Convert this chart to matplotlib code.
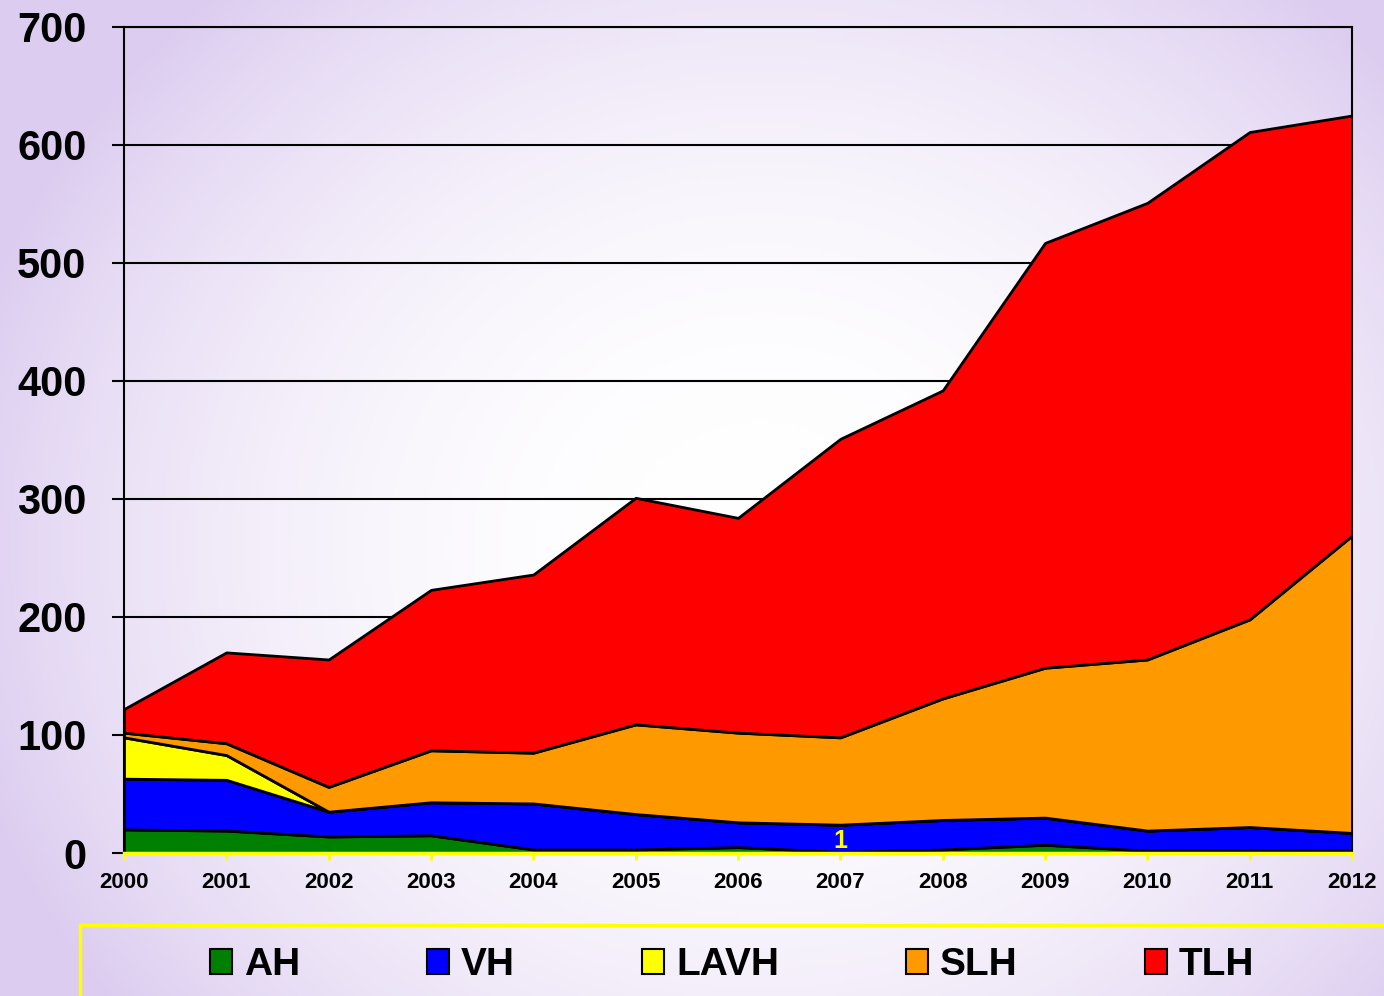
import numpy as np
import matplotlib
matplotlib.use("Agg")
import matplotlib.pyplot as plt
from matplotlib.patches import Rectangle, Patch

years = [2000, 2001, 2002, 2003, 2004, 2005, 2006, 2007, 2008, 2009, 2010, 2011, 2012]
ah = [20, 19, 14, 15, 3, 3, 5, 1, 3, 7, 2, 2, 2]
vh = [43, 43, 21, 28, 39, 30, 21, 23, 25, 23, 17, 20, 15]
lavh = [35, 21, 0, 0, 0, 0, 0, 0, 0, 0, 0, 0, 0]
slh = [4, 10, 21, 44, 43, 76, 76, 74, 103, 127, 145, 176, 252]
tlh = [20, 77, 108, 136, 151, 192, 182, 253, 261, 360, 387, 413, 356]

labels = ["AH", "VH", "LAVH", "SLH", "TLH"]
colors = ["#008000", "#0000FF", "#FFFF00", "#FF9900", "#FF0000"]

plt.rcParams["font.family"] = ["Liberation Sans", "DejaVu Sans"]
plt.rcParams["font.weight"] = "bold"

fig = plt.figure(figsize=(13.84, 9.96), dpi=100)

# lavender-to-white background
bg = fig.add_axes([0, 0, 1, 1], zorder=-10)
gx, gy = np.meshgrid(np.linspace(0, 1, 400), np.linspace(0, 1, 300))
r = np.sqrt(((gx - 0.55) / 0.6) ** 2 + ((gy - 0.45) / 0.75) ** 2)
t = np.clip(r, 0, 1) ** 2.2
lav = np.array([220, 204, 240]) / 255.0
img = (1 - t)[..., None] * np.ones(3) + t[..., None] * lav
bg.imshow(img, extent=[0, 1, 0, 1], aspect="auto", origin="lower")
bg.axis("off")

ax = fig.add_axes([124 / 1384, (996 - 853) / 996, (1352 - 124) / 1384, (853 - 27) / 996])
ax.set_facecolor("none")

ax.stackplot(years, ah, vh, lavh, slh, tlh, colors=colors,
             edgecolor="black", linewidth=2, zorder=3)

for v in range(100, 701, 100):
    ax.axhline(v, color="black", linewidth=1.5, zorder=1)

ax.set_xlim(2000, 2012)
ax.set_ylim(0, 700)
ax.set_xticks(years)
ax.set_yticks(range(0, 701, 100))
ax.tick_params(axis="y", direction="out", length=9, width=1.5, color="black",
               labelsize=30, pad=18)
ax.tick_params(axis="x", direction="out", length=5, width=2, color="#FFFF00",
               labelsize=16, pad=9)
for lab in ax.get_xticklabels() + ax.get_yticklabels():
    lab.set_fontweight("bold")

for s in ["left", "top", "right"]:
    ax.spines[s].set_color("black")
    ax.spines[s].set_linewidth(1.5)
ax.spines["bottom"].set_color("#FFFF00")
ax.spines["bottom"].set_linewidth(2.5)
ax.spines["bottom"].set_zorder(5)

ax.text(2007, 0, str(ah[7]), color="#FFFF00", fontsize=18, fontweight="bold",
        ha="center", va="bottom", zorder=6)

# legend box
fig.patches.append(Rectangle((80 / 1384, -0.01), 1.0, (996 - 925) / 996 + 0.01,
                             transform=fig.transFigure, facecolor="none",
                             edgecolor="#FFFF00", linewidth=2.5))
handles = [Patch(facecolor=c, edgecolor="black", linewidth=1.5) for c in colors]
fig.legend(handles, labels, loc="center left", bbox_to_anchor=(210 / 1384, 31 / 996),
           ncol=5, frameon=False, borderpad=0, borderaxespad=0,
           prop={"size": 28, "weight": "bold"}, handlelength=0.57, handleheight=0.6,
           handletextpad=0.3, columnspacing=3.27)

fig.savefig("out.png", dpi=100)
